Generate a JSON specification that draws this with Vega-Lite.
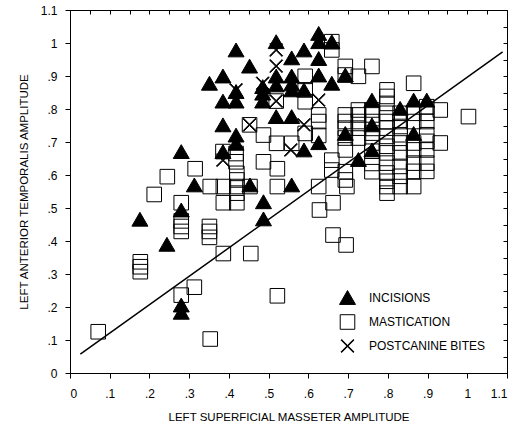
{
  "$schema": "https://vega.github.io/schema/vega-lite/v6.json",
  "width": 437,
  "height": 363,
  "autosize": {"type": "none"},
  "padding": {"left": 70, "top": 10, "right": 19, "bottom": 61},
  "config": {
    "font": "Liberation Sans",
    "view": {"stroke": "black", "strokeWidth": 1},
    "axis": {"grid": false, "domainColor": "black", "tickColor": "black", "labelColor": "black", "titleColor": "black", "labelFontSize": 12, "titleFontSize": 11.5, "titleFontWeight": "normal", "labelFont": "Liberation Sans", "titleFont": "Liberation Sans"},
    "legend": {"orient": "none", "legendX": 269, "legendY": 279, "title": null, "labelFontSize": 12, "labelFont": "Liberation Sans", "labelColor": "black", "labelOffset": 13, "rowPadding": 5, "symbolStrokeWidth": 1}
  },
  "layer": [
    {
      "data": {"values": [
        {"x":0.071,"y":0.125,"t":"MASTICATION"},{"x":0.353,"y":0.103,"t":"MASTICATION"},{"x":0.28,"y":0.236,"t":"MASTICATION"},{"x":0.313,"y":0.26,"t":"MASTICATION"},{"x":0.522,"y":0.234,"t":"MASTICATION"},
        {"x":0.177,"y":0.337,"t":"MASTICATION"},{"x":0.177,"y":0.322,"t":"MASTICATION"},{"x":0.177,"y":0.307,"t":"MASTICATION"},
        {"x":0.386,"y":0.362,"t":"MASTICATION"},{"x":0.455,"y":0.362,"t":"MASTICATION"},
        {"x":0.28,"y":0.461,"t":"MASTICATION"},{"x":0.28,"y":0.444,"t":"MASTICATION"},{"x":0.28,"y":0.429,"t":"MASTICATION"},
        {"x":0.351,"y":0.444,"t":"MASTICATION"},{"x":0.351,"y":0.429,"t":"MASTICATION"},{"x":0.351,"y":0.411,"t":"MASTICATION"},
        {"x":0.212,"y":0.541,"t":"MASTICATION"},{"x":0.28,"y":0.516,"t":"MASTICATION"},{"x":0.245,"y":0.595,"t":"MASTICATION"},{"x":0.315,"y":0.619,"t":"MASTICATION"},
        {"x":0.353,"y":0.565,"t":"MASTICATION"},{"x":0.386,"y":0.565,"t":"MASTICATION"},{"x":0.42,"y":0.565,"t":"MASTICATION"},{"x":0.42,"y":0.545,"t":"MASTICATION"},{"x":0.42,"y":0.516,"t":"MASTICATION"},{"x":0.386,"y":0.516,"t":"MASTICATION"},{"x":0.453,"y":0.565,"t":"MASTICATION"},{"x":0.522,"y":0.565,"t":"MASTICATION"},
        {"x":0.42,"y":0.605,"t":"MASTICATION"},{"x":0.42,"y":0.585,"t":"MASTICATION"},
        {"x":0.385,"y":0.671,"t":"MASTICATION"},{"x":0.418,"y":0.665,"t":"MASTICATION"},{"x":0.418,"y":0.64,"t":"MASTICATION"},{"x":0.487,"y":0.64,"t":"MASTICATION"},{"x":0.522,"y":0.619,"t":"MASTICATION"},
        {"x":0.452,"y":0.752,"t":"MASTICATION"},{"x":0.487,"y":0.721,"t":"MASTICATION"},{"x":0.52,"y":0.696,"t":"MASTICATION"},{"x":0.558,"y":0.696,"t":"MASTICATION"},{"x":0.519,"y":0.824,"t":"MASTICATION"},
        {"x":0.592,"y":0.899,"t":"MASTICATION"},{"x":0.592,"y":0.858,"t":"MASTICATION"},{"x":0.592,"y":0.822,"t":"MASTICATION"},{"x":0.626,"y":0.782,"t":"MASTICATION"},{"x":0.626,"y":0.762,"t":"MASTICATION"},{"x":0.592,"y":0.726,"t":"MASTICATION"},{"x":0.626,"y":0.72,"t":"MASTICATION"},
        {"x":0.659,"y":1.004,"t":"MASTICATION"},{"x":0.659,"y":0.979,"t":"MASTICATION"},{"x":0.693,"y":0.929,"t":"MASTICATION"},{"x":0.726,"y":0.899,"t":"MASTICATION"},{"x":0.76,"y":0.929,"t":"MASTICATION"},{"x":0.693,"y":0.903,"t":"MASTICATION"},
        {"x":0.865,"y":0.878,"t":"MASTICATION"},
        {"x":0.659,"y":0.645,"t":"MASTICATION"},{"x":0.659,"y":0.615,"t":"MASTICATION"},{"x":0.693,"y":0.61,"t":"MASTICATION"},{"x":0.693,"y":0.585,"t":"MASTICATION"},{"x":0.626,"y":0.565,"t":"MASTICATION"},
        {"x":0.76,"y":0.635,"t":"MASTICATION"},{"x":0.76,"y":0.61,"t":"MASTICATION"},{"x":0.697,"y":0.565,"t":"MASTICATION"},
        {"x":0.628,"y":0.494,"t":"MASTICATION"},{"x":0.662,"y":0.516,"t":"MASTICATION"},{"x":0.662,"y":0.418,"t":"MASTICATION"},{"x":0.695,"y":0.388,"t":"MASTICATION"},
        {"x":0.798,"y":0.565,"t":"MASTICATION"},{"x":0.831,"y":0.565,"t":"MASTICATION"},{"x":0.865,"y":0.565,"t":"MASTICATION"},{"x":0.798,"y":0.545,"t":"MASTICATION"},
        {"x":1.003,"y":0.777,"t":"MASTICATION"},
        {"x":0.693,"y":0.782,"t":"MASTICATION"},{"x":0.693,"y":0.762,"t":"MASTICATION"},{"x":0.693,"y":0.742,"t":"MASTICATION"},{"x":0.693,"y":0.712,"t":"MASTICATION"},{"x":0.693,"y":0.676,"t":"MASTICATION"},
        {"x":0.726,"y":0.797,"t":"MASTICATION"},{"x":0.726,"y":0.782,"t":"MASTICATION"},{"x":0.726,"y":0.762,"t":"MASTICATION"},{"x":0.726,"y":0.742,"t":"MASTICATION"},{"x":0.726,"y":0.712,"t":"MASTICATION"},
        {"x":0.76,"y":0.797,"t":"MASTICATION"},{"x":0.76,"y":0.782,"t":"MASTICATION"},{"x":0.76,"y":0.762,"t":"MASTICATION"},{"x":0.76,"y":0.727,"t":"MASTICATION"},{"x":0.76,"y":0.697,"t":"MASTICATION"},{"x":0.76,"y":0.672,"t":"MASTICATION"},
        {"x":0.798,"y":0.858,"t":"MASTICATION"},{"x":0.798,"y":0.838,"t":"MASTICATION"},{"x":0.798,"y":0.817,"t":"MASTICATION"},{"x":0.798,"y":0.787,"t":"MASTICATION"},{"x":0.798,"y":0.762,"t":"MASTICATION"},{"x":0.798,"y":0.742,"t":"MASTICATION"},{"x":0.798,"y":0.717,"t":"MASTICATION"},{"x":0.798,"y":0.687,"t":"MASTICATION"},{"x":0.798,"y":0.667,"t":"MASTICATION"},{"x":0.798,"y":0.636,"t":"MASTICATION"},{"x":0.798,"y":0.606,"t":"MASTICATION"},{"x":0.798,"y":0.581,"t":"MASTICATION"},
        {"x":0.831,"y":0.787,"t":"MASTICATION"},{"x":0.831,"y":0.762,"t":"MASTICATION"},{"x":0.831,"y":0.747,"t":"MASTICATION"},{"x":0.831,"y":0.722,"t":"MASTICATION"},{"x":0.831,"y":0.697,"t":"MASTICATION"},{"x":0.831,"y":0.667,"t":"MASTICATION"},{"x":0.831,"y":0.626,"t":"MASTICATION"},{"x":0.831,"y":0.596,"t":"MASTICATION"},
        {"x":0.865,"y":0.787,"t":"MASTICATION"},{"x":0.865,"y":0.762,"t":"MASTICATION"},{"x":0.865,"y":0.697,"t":"MASTICATION"},{"x":0.865,"y":0.676,"t":"MASTICATION"},{"x":0.865,"y":0.636,"t":"MASTICATION"},{"x":0.865,"y":0.611,"t":"MASTICATION"},
        {"x":0.898,"y":0.807,"t":"MASTICATION"},{"x":0.898,"y":0.787,"t":"MASTICATION"},{"x":0.898,"y":0.762,"t":"MASTICATION"},{"x":0.898,"y":0.722,"t":"MASTICATION"},{"x":0.898,"y":0.702,"t":"MASTICATION"},{"x":0.898,"y":0.676,"t":"MASTICATION"},{"x":0.898,"y":0.636,"t":"MASTICATION"},{"x":0.898,"y":0.611,"t":"MASTICATION"},
        {"x":0.932,"y":0.797,"t":"MASTICATION"},{"x":0.932,"y":0.697,"t":"MASTICATION"},
        {"x":0.176,"y":0.466,"t":"INCISIONS"},{"x":0.244,"y":0.39,"t":"INCISIONS"},{"x":0.28,"y":0.494,"t":"INCISIONS"},{"x":0.28,"y":0.206,"t":"INCISIONS"},{"x":0.28,"y":0.184,"t":"INCISIONS"},{"x":0.313,"y":0.57,"t":"INCISIONS"},{"x":0.453,"y":0.57,"t":"INCISIONS"},{"x":0.487,"y":0.519,"t":"INCISIONS"},{"x":0.487,"y":0.467,"t":"INCISIONS"},{"x":0.558,"y":0.57,"t":"INCISIONS"},
        {"x":0.519,"y":1.004,"t":"INCISIONS"},{"x":0.418,"y":0.979,"t":"INCISIONS"},{"x":0.558,"y":0.955,"t":"INCISIONS"},{"x":0.452,"y":0.93,"t":"INCISIONS"},{"x":0.519,"y":0.9,"t":"INCISIONS"},{"x":0.558,"y":0.9,"t":"INCISIONS"},
        {"x":0.385,"y":0.9,"t":"INCISIONS"},{"x":0.351,"y":0.878,"t":"INCISIONS"},{"x":0.418,"y":0.853,"t":"INCISIONS"},{"x":0.485,"y":0.868,"t":"INCISIONS"},{"x":0.519,"y":0.873,"t":"INCISIONS"},{"x":0.558,"y":0.876,"t":"INCISIONS"},
        {"x":0.385,"y":0.824,"t":"INCISIONS"},{"x":0.418,"y":0.824,"t":"INCISIONS"},{"x":0.485,"y":0.824,"t":"INCISIONS"},{"x":0.485,"y":0.848,"t":"INCISIONS"},{"x":0.519,"y":0.777,"t":"INCISIONS"},{"x":0.558,"y":0.777,"t":"INCISIONS"},{"x":0.385,"y":0.752,"t":"INCISIONS"},{"x":0.418,"y":0.721,"t":"INCISIONS"},{"x":0.418,"y":0.696,"t":"INCISIONS"},{"x":0.28,"y":0.671,"t":"INCISIONS"},{"x":0.385,"y":0.671,"t":"INCISIONS"},
        {"x":0.626,"y":1.029,"t":"INCISIONS"},{"x":0.626,"y":1.004,"t":"INCISIONS"},{"x":0.659,"y":1.004,"t":"INCISIONS"},{"x":0.589,"y":0.979,"t":"INCISIONS"},{"x":0.626,"y":0.953,"t":"INCISIONS"},{"x":0.626,"y":0.903,"t":"INCISIONS"},{"x":0.693,"y":0.903,"t":"INCISIONS"},{"x":0.659,"y":0.878,"t":"INCISIONS"},{"x":0.558,"y":0.858,"t":"INCISIONS"},{"x":0.589,"y":0.858,"t":"INCISIONS"},{"x":0.626,"y":0.698,"t":"INCISIONS"},{"x":0.589,"y":0.676,"t":"INCISIONS"},
        {"x":0.76,"y":0.827,"t":"INCISIONS"},{"x":0.831,"y":0.802,"t":"INCISIONS"},{"x":0.865,"y":0.827,"t":"INCISIONS"},{"x":0.898,"y":0.827,"t":"INCISIONS"},{"x":0.76,"y":0.752,"t":"INCISIONS"},{"x":0.693,"y":0.726,"t":"INCISIONS"},{"x":0.865,"y":0.726,"t":"INCISIONS"},{"x":0.76,"y":0.676,"t":"INCISIONS"},{"x":0.726,"y":0.647,"t":"INCISIONS"},
        {"x":0.519,"y":0.979,"t":"POSTCANINE BITES"},{"x":0.519,"y":0.93,"t":"POSTCANINE BITES"},{"x":0.485,"y":0.878,"t":"POSTCANINE BITES"},{"x":0.418,"y":0.858,"t":"POSTCANINE BITES"},{"x":0.519,"y":0.824,"t":"POSTCANINE BITES"},{"x":0.452,"y":0.752,"t":"POSTCANINE BITES"},{"x":0.556,"y":0.676,"t":"POSTCANINE BITES"},{"x":0.385,"y":0.645,"t":"POSTCANINE BITES"},{"x":0.626,"y":0.827,"t":"POSTCANINE BITES"},{"x":0.589,"y":0.752,"t":"POSTCANINE BITES"}
      ]},
      "mark": {"type": "point", "opacity": 1, "strokeWidth": 1},
      "encoding": {
        "x": {"field": "x", "type": "quantitative", "scale": {"domain": [0, 1.1], "nice": false, "zero": false},
          "axis": {"orient": "bottom", "title": "LEFT SUPERFICIAL MASSETER AMPLITUDE", "values": [0,0.1,0.2,0.3,0.4,0.5,0.6,0.7,0.8,0.9,1,1.1], "labelExpr": "replace(format(datum.value, '.2~f'), '0.', '.')", "tickSize": 5, "labelPadding": 10, "titlePadding": 12}},
        "y": {"field": "y", "type": "quantitative", "scale": {"domain": [0, 1.1], "nice": false, "zero": false},
          "axis": {"orient": "left", "title": "LEFT ANTERIOR TEMPORALIS AMPLITUDE", "values": [0,0.1,0.2,0.3,0.4,0.5,0.6,0.7,0.8,0.9,1,1.1], "labelExpr": "replace(format(datum.value, '.2~f'), '0.', '.')", "tickSize": 5, "labelPadding": 8, "titlePadding": 11}},
        "shape": {"field": "t", "type": "nominal", "scale": {"domain": ["INCISIONS", "MASTICATION", "POSTCANINE BITES"], "range": ["triangle-up", "square", "M-1,-0.9L-0.9,-1L0,-0.1L0.9,-1L1,-0.9L0.1,0L1,0.9L0.9,1L0,0.1L-0.9,1L-1,0.9L-0.1,0Z"]}},
        "fill": {"field": "t", "type": "nominal", "scale": {"domain": ["INCISIONS", "MASTICATION", "POSTCANINE BITES"], "range": ["black", "transparent", "black"]}},
        "stroke": {"field": "t", "type": "nominal", "scale": {"domain": ["INCISIONS", "MASTICATION", "POSTCANINE BITES"], "range": ["black", "black", "black"]}},
        "size": {"field": "t", "type": "nominal", "scale": {"domain": ["INCISIONS", "MASTICATION", "POSTCANINE BITES"], "range": [256, 169, 144]}}
      }
    },
    {
      "data": {"values": [{"x": 0.026, "y": 0.057}, {"x": 1.089, "y": 0.973}]},
      "mark": {"type": "line", "color": "black", "strokeWidth": 1.5},
      "encoding": {
        "x": {"field": "x", "type": "quantitative", "scale": {"domain": [0, 1.1], "nice": false, "zero": false},
          "axis": {"orient": "top", "title": null, "labels": false, "values": [0,0.05,0.1,0.15,0.2,0.25,0.3,0.35,0.4,0.45,0.5,0.55,0.6,0.65,0.7,0.75,0.8,0.85,0.9,0.95,1,1.05,1.1], "tickSize": -4}},
        "y": {"field": "y", "type": "quantitative", "scale": {"domain": [0, 1.1], "nice": false, "zero": false},
          "axis": {"orient": "right", "title": null, "labels": false, "values": [0,0.05,0.1,0.15,0.2,0.25,0.3,0.35,0.4,0.45,0.5,0.55,0.6,0.65,0.7,0.75,0.8,0.85,0.9,0.95,1,1.05,1.1], "tickSize": -4}}
      }
    }
  ],
  "resolve": {"axis": {"x": "independent", "y": "independent"}}
}
